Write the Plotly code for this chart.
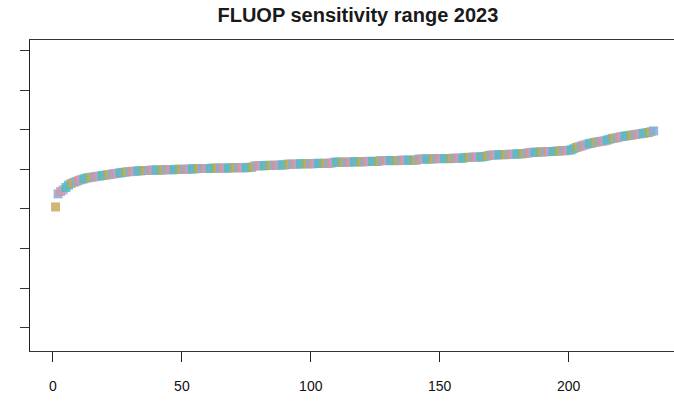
import plotly.graph_objects as go

# Sorted sensitivity values (index 1..233) (y axis unlabeled)
values = [
    3.05, 3.38, 3.44, 3.48, 3.54, 3.60, 3.64, 3.67, 3.69, 3.72,
    3.74, 3.76, 3.78, 3.79, 3.80, 3.81, 3.82, 3.83, 3.84, 3.85,
    3.86, 3.87, 3.88, 3.89, 3.90, 3.91, 3.92, 3.93, 3.94, 3.94,
    3.95, 3.95, 3.96, 3.96, 3.97, 3.97, 3.97, 3.98, 3.98, 3.98,
    3.98, 3.98, 3.99, 3.99, 3.99, 3.99, 3.99, 4.00, 4.00, 4.00,
    4.00, 4.00, 4.01, 4.01, 4.01, 4.02, 4.02, 4.02, 4.02, 4.02,
    4.02, 4.03, 4.03, 4.03, 4.03, 4.03, 4.03, 4.03, 4.04, 4.04,
    4.04, 4.04, 4.04, 4.04, 4.04, 4.05, 4.05, 4.08, 4.09, 4.09,
    4.09, 4.09, 4.10, 4.10, 4.10, 4.10, 4.10, 4.11, 4.11, 4.11,
    4.13, 4.13, 4.13, 4.13, 4.13, 4.14, 4.14, 4.14, 4.14, 4.14,
    4.14, 4.15, 4.15, 4.15, 4.15, 4.15, 4.15, 4.16, 4.18, 4.18,
    4.18, 4.18, 4.18, 4.18, 4.18, 4.19, 4.19, 4.19, 4.19, 4.19,
    4.19, 4.20, 4.20, 4.20, 4.20, 4.20, 4.22, 4.22, 4.22, 4.22,
    4.22, 4.22, 4.22, 4.22, 4.23, 4.23, 4.23, 4.23, 4.23, 4.23,
    4.23, 4.26, 4.26, 4.26, 4.26, 4.26, 4.26, 4.27, 4.27, 4.27,
    4.27, 4.27, 4.27, 4.27, 4.28, 4.28, 4.28, 4.28, 4.28, 4.30,
    4.30, 4.30, 4.31, 4.31, 4.31, 4.31, 4.32, 4.33, 4.35, 4.36,
    4.36, 4.36, 4.37, 4.37, 4.37, 4.37, 4.38, 4.38, 4.38, 4.39,
    4.39, 4.39, 4.40, 4.41, 4.42, 4.43, 4.43, 4.43, 4.44, 4.44,
    4.44, 4.45, 4.45, 4.45, 4.46, 4.46, 4.47, 4.47, 4.47, 4.48,
    4.49, 4.52, 4.55, 4.57, 4.59, 4.61, 4.63, 4.65, 4.66, 4.68,
    4.69, 4.70, 4.71, 4.72, 4.74, 4.76, 4.78, 4.79, 4.80, 4.82,
    4.83, 4.84, 4.85, 4.86, 4.87, 4.88, 4.89, 4.90, 4.91, 4.92,
    4.93, 4.95, 4.97,
]
index = list(range(1, len(values) + 1))

palette = ["#C9A95E", "#7EAEE6", "#E8927C", "#B3A1E2", "#4FC0AE", "#5FB6DF", "#93B26C"]
colors = [palette[i % len(palette)] for i in range(len(values))]

x_ticks = [0, 50, 100, 150, 200]
y_ticks = [0, 1, 2, 3, 4, 5, 6, 7]

fig = go.Figure()
fig.add_trace(go.Scatter(
    x=index, y=values, mode="markers",
    marker=dict(symbol="square", size=9, color=colors, opacity=0.85, line=dict(width=0)),
    showlegend=False, hoverinfo="x+y",
))

fig.update_layout(
    width=674, height=408,
    margin=dict(l=30, r=0, t=40, b=57),
    paper_bgcolor="white", plot_bgcolor="white",
    title=dict(text="<b>FLUOP sensitivity range 2023</b>", x=0.531, xanchor="center",
               y=1 - 15 / 408, yanchor="middle",
               font=dict(family="Liberation Sans, Arial", size=20, color="#1a1a1a")),
    xaxis=dict(range=[-8.92, 240.9], tickvals=x_ticks, ticks="outside", ticklen=10,
               tickcolor="#222", showline=True, linecolor="#333", linewidth=1, mirror=True,
               showgrid=False, zeroline=False, ticklabelstandoff=12,
               tickfont=dict(family="Liberation Sans, Arial", size=14, color="#111")),
    yaxis=dict(range=[-0.588, 7.265], tickvals=y_ticks, ticks="outside", ticklen=9,
               tickcolor="#333", showline=True, linecolor="#222", linewidth=1, mirror=False,
               showgrid=False, zeroline=False, showticklabels=False),
)

fig.write_html("out.html")
